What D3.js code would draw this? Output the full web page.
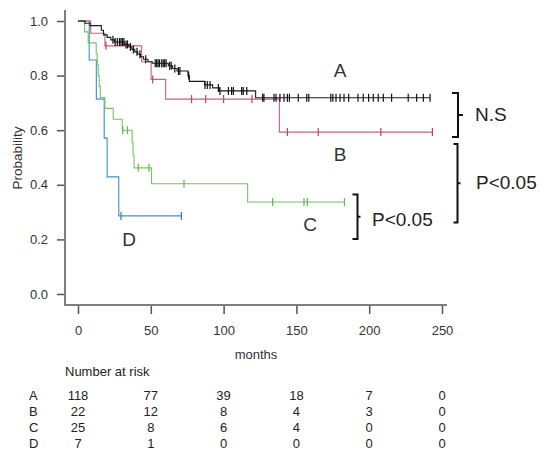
<!DOCTYPE html>
<meta charset="utf-8">
<script src="https://d3js.org/d3.v7.min.js"></script>
<style>
  body { margin: 0; background: #fff; }
  text { font-family: "Liberation Sans", Arial, sans-serif; }
</style>
<div id="chart"></div>
<script>
// --- data ---
var groups = ["A", "B", "C", "D"];
var colors = ["#1a1a1a", "#c8607d", "#74c462", "#3f90c8"];
var censorColors = ["#111111", "#c0405f", "#5fb84c", "#2f80bb"];

// step changes: time (months) and survival after the drop
var stepTimesA = [4.8, 8.2, 16, 17.5, 20, 22.5, 25, 32, 35, 37, 39, 41, 43, 45, 48, 51, 62, 65, 68, 75.5, 76.5, 87, 92.5, 97, 122];
var stepSurvA  = [0.992, 0.983, 0.966, 0.949, 0.940, 0.931, 0.923, 0.914, 0.905, 0.896, 0.887, 0.878, 0.869, 0.860, 0.851, 0.845, 0.836, 0.826, 0.817, 0.800, 0.779, 0.766, 0.755, 0.744, 0.719];
var censorA = [24, 25.5, 27, 28.5, 29.5, 30.5, 31.5, 33, 34, 36, 38, 40.5, 42.5, 46.5, 53, 54, 55, 56, 57.5, 58.5, 59.5, 60.5, 63, 64, 66.5, 69, 70, 76, 87.2, 88.8, 90.7, 96.4, 97.5, 103.3, 105.5, 106.7, 112.4, 113.5, 115.9, 126.8, 127.7, 134.6, 136, 138.7, 141.5, 143.8, 145.2, 151.3, 157.1, 158.5, 173.6, 175, 177.2, 180, 182.7, 185.9, 192.3, 195.9, 199.6, 202.8, 206.2, 209.7, 215.4, 226.8, 232.6, 237.2, 241.8];

var stepTimesB = [8.7, 18.5, 43.7, 50.2, 60.2, 138.3];
var stepSurvB  = [0.955, 0.909, 0.851, 0.786, 0.714, 0.593];
var censorB = [19.2, 51.3, 78, 87.7, 100, 119.5, 143.8, 165, 208, 243.4];

var stepTimesC = [4.5, 7, 12.5, 13.2, 13.9, 14.6, 15.3, 18.5, 24.2, 30.4, 37.2, 37.8, 38.5, 50.5, 116.5];
var stepSurvC  = [0.96, 0.92, 0.88, 0.84, 0.80, 0.76, 0.72, 0.68, 0.64, 0.60, 0.554, 0.508, 0.462, 0.404, 0.337];
var censorC = [30.7, 34, 41.4, 48.8, 72.8, 133.7, 155.2, 157.5, 183];

var stepTimesD = [7.7, 12.6, 18, 20, 28];
var stepSurvD  = [0.857, 0.714, 0.571, 0.429, 0.286];
var censorD = [29.5, 71];

var riskTimes = [0, 50, 100, 150, 200, 250];
var riskA = [118, 77, 39, 18, 7, 0];
var riskB = [22, 12, 8, 4, 3, 0];
var riskC = [25, 8, 6, 4, 0, 0];
var riskD = [7, 1, 0, 0, 0, 0];

var xTicks = [0, 50, 100, 150, 200, 250];
var yTicks = [0, 0.2, 0.4, 0.6, 0.8, 1.0];

// --- build ---
var series = [
  {name: "A", t: stepTimesA, s: stepSurvA, c: censorA, risk: riskA},
  {name: "B", t: stepTimesB, s: stepSurvB, c: censorB, risk: riskB},
  {name: "C", t: stepTimesC, s: stepSurvC, c: censorC, risk: riskC},
  {name: "D", t: stepTimesD, s: stepSurvD, c: censorD, risk: riskD}
];

var width = 550, height = 458;
var svg = d3.select("#chart").append("svg")
  .attr("width", width)
  .attr("height", height);

var x = d3.scaleLinear().domain([0, 250]).range([78, 442]);
var y = d3.scaleLinear().domain([0, 1]).range([294, 21]);

// L-shaped frame (R bty="l")
svg.append("path")
  .attr("d", "M65,10V305H447")
  .attr("fill", "none")
  .attr("stroke", "#555")
  .attr("stroke-width", 1.5);

var yAxis = svg.append("g")
  .attr("transform", "translate(64,0)")
  .call(d3.axisLeft(y).tickValues(yTicks).tickFormat(d3.format(".1f")).tickSize(7).tickPadding(9));
var xAxis = svg.append("g")
  .attr("transform", "translate(0,306)")
  .call(d3.axisBottom(x).tickValues(xTicks).tickSize(8).tickPadding(12));

[yAxis, xAxis].forEach(function(ax) {
  ax.select(".domain").remove();
  ax.selectAll(".tick line").attr("stroke", "#555").attr("stroke-width", 1.5);
  ax.selectAll(".tick text")
    .attr("fill", "#333")
    .style("font-size", "13px")
    .style("font-family", "'Liberation Sans', Arial, sans-serif");
});

svg.append("text")
  .attr("transform", "translate(21.5,158) rotate(-90)")
  .attr("text-anchor", "middle")
  .attr("fill", "#333")
  .style("font-size", "13.5px")
  .text("Probability");

svg.append("text")
  .attr("x", 256).attr("y", 359)
  .attr("text-anchor", "middle")
  .attr("fill", "#333")
  .style("font-size", "13px")
  .text("months");

// curves
var line = d3.line()
  .x(d => x(d[0]))
  .y(d => y(d[1]))
  .curve(d3.curveStepAfter);

function survAt(sr, t) {
  var v = 1;
  for (var i = 0; i < sr.t.length; i++) {
    if (sr.t[i] <= t) v = sr.s[i];
  }
  return v;
}

// draw in reverse so black ends up on top
series.slice().reverse().forEach(function(sr) {
  var gi = groups.indexOf(sr.name);
  var pts = [[0, 1]];
  sr.t.forEach((t, i) => pts.push([t, sr.s[i]]));
  var end = Math.max(d3.max(sr.c), d3.max(sr.t));
  pts.push([end, sr.s[sr.s.length - 1]]);

  svg.append("path")
    .attr("d", line(pts))
    .attr("fill", "none")
    .attr("stroke", colors[gi])
    .attr("stroke-width", 1.1);

  svg.selectAll(null)
    .data(sr.c)
    .enter().append("line")
    .attr("x1", d => x(d)).attr("x2", d => x(d))
    .attr("y1", d => y(survAt(sr, d)) - 4)
    .attr("y2", d => y(survAt(sr, d)) + 4)
    .attr("stroke", censorColors[gi])
    .attr("stroke-width", 1.2);
});

// curve labels
var lab = svg.append("g")
  .attr("fill", "#333")
  .style("font-family", "'Noto Sans CJK JP', 'Noto Sans', sans-serif")
  .style("font-weight", 300)
  .style("font-size", "19px")
  .attr("text-anchor", "middle");
lab.append("text").attr("x", 340).attr("y", 77).text("A");
lab.append("text").attr("x", 340).attr("y", 161).text("B");
lab.append("text").attr("x", 310).attr("y", 231).text("C");
lab.append("text").attr("x", 129).attr("y", 246).text("D");

// brackets with p-values
function bracket(xv, y0, y1, hook, notch) {
  var ym = (y0 + y1) / 2;
  svg.append("path")
    .attr("d", "M" + (xv - hook) + "," + y0 + "H" + xv + "V" + y1 + "H" + (xv - hook) +
               "M" + xv + "," + ym + "H" + (xv + notch))
    .attr("fill", "none")
    .attr("stroke", "#111")
    .attr("stroke-width", 2);
}
bracket(458, 93, 137, 6, 5);
bracket(457.5, 144, 222.5, 4, 3);
bracket(357.5, 194.5, 239, 5, 3);

var ann = svg.append("g")
  .attr("fill", "#222")
  .style("font-family", "'Noto Sans CJK JP', 'Noto Sans', sans-serif")
  .style("font-weight", 300)
  .style("font-size", "19px");
ann.append("text").attr("x", 475).attr("y", 121).text("N.S");
ann.append("text").attr("x", 476).attr("y", 189).text("P<0.05");
ann.append("text").attr("x", 372).attr("y", 226).text("P<0.05");

// number at risk table
svg.append("text")
  .attr("x", 65).attr("y", 376)
  .attr("fill", "#222")
  .style("font-size", "13px")
  .text("Number at risk");

series.forEach(function(sr, i) {
  var yy = 400 + i * 16;
  svg.append("text")
    .attr("x", 29).attr("y", yy)
    .attr("fill", "#222")
    .style("font-size", "13px")
    .text(sr.name);
  svg.selectAll(null)
    .data(sr.risk)
    .enter().append("text")
    .attr("x", (d, j) => x(riskTimes[j]))
    .attr("y", yy)
    .attr("text-anchor", "middle")
    .attr("fill", "#222")
    .style("font-size", "13px")
    .text(d => d);
});
</script>
